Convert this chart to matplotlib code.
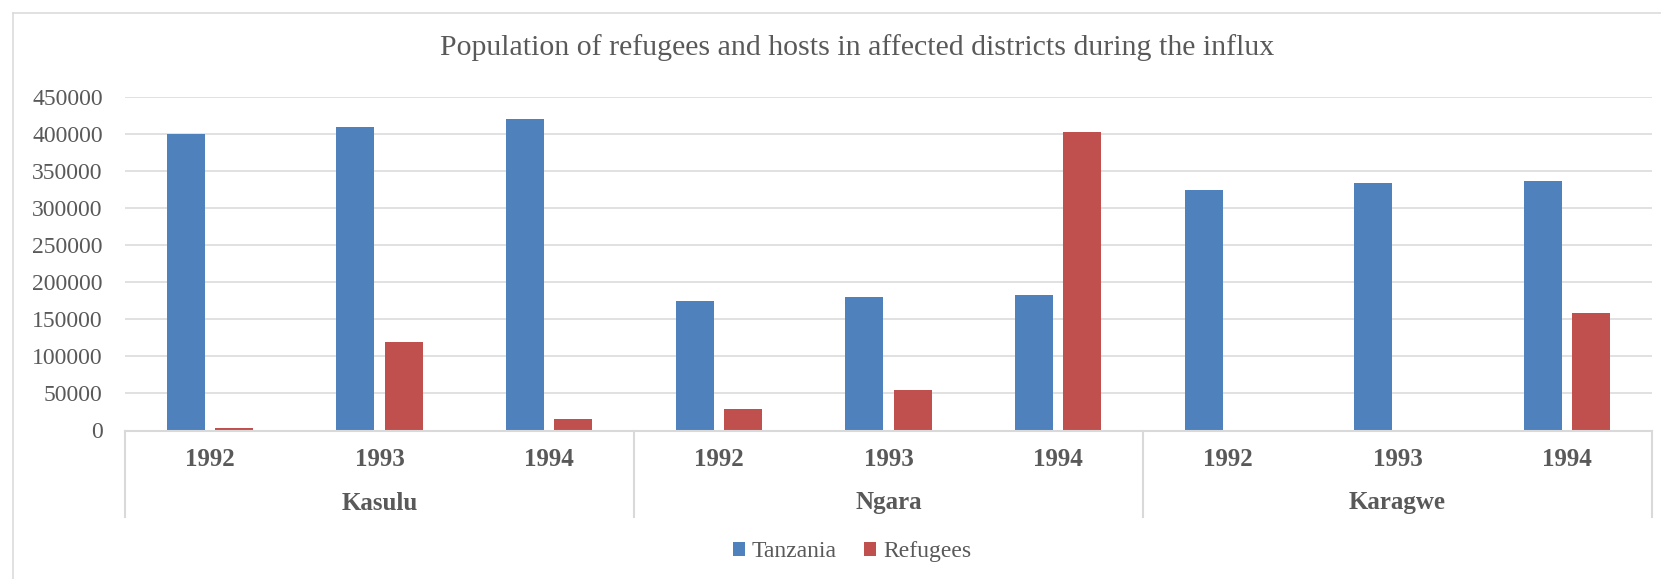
import matplotlib
matplotlib.use("Agg")
import matplotlib.pyplot as plt
from matplotlib.lines import Line2D
from matplotlib.patches import Patch
import matplotlib.transforms as mtransforms
import numpy as np

# ---- data ----
districts = ["Kasulu", "Ngara", "Karagwe"]
years = ["1992", "1993", "1994"]
tanzania = [400000, 410000, 420000, 175000, 180000, 183000, 325000, 334000, 337000]
refugees = [4000, 119000, 15000, 29000, 55000, 402500, 0, 0, 158000]
yticks = [0, 50000, 100000, 150000, 200000, 250000, 300000, 350000, 400000, 450000]
series_names = ["Tanzania", "Refugees"]

BLUE = "#4F81BD"
RED = "#C0504D"
TXT = "#595959"
GRID = "#D9D9D9"
FONT = "Liberation Serif"

W, H = 1661, 579
fig = plt.figure(figsize=(W / 100, H / 100), dpi=100)
fig.patch.set_facecolor("white")

# outer chart border (left and top visible)
fig.add_artist(Line2D([12.7 / W, 12.7 / W], [0, 1 - 12.7 / H], transform=fig.transFigure,
                      color=GRID, lw=1.1))
fig.add_artist(Line2D([12.7 / W, 1], [1 - 12.7 / H, 1 - 12.7 / H], transform=fig.transFigure,
                      color=GRID, lw=1.1))

left, right = 125 / W, 1652 / W
bottom, top = 1 - 430.5 / H, 1 - 97 / H
ax = fig.add_axes([left, bottom, right - left, top - bottom])

n = len(tanzania)
x = np.arange(n)
bw = 0.224
off = 0.143
ax.bar(x - off, tanzania, width=bw, color=BLUE, zorder=3, label=series_names[0])
ax.bar(x + off, refugees, width=bw, color=RED, zorder=3, label=series_names[1])

ax.set_xlim(-0.5, n - 0.5)
ax.set_ylim(0, 450000)
ax.set_yticks(yticks)
ax.set_yticklabels([str(v) for v in yticks], fontfamily=FONT, fontsize=17, color=TXT)
ax.tick_params(axis="y", length=0, pad=16)
ax.set_xticks([])
ax.yaxis.grid(True, color=GRID, lw=1.1, zorder=0)
ax.set_axisbelow(True)
for s in ["left", "right", "top"]:
    ax.spines[s].set_visible(False)
ax.spines["bottom"].set_color(GRID)
ax.spines["bottom"].set_linewidth(1.5)
ax.spines["bottom"].set_zorder(4)

trans = mtransforms.blended_transform_factory(ax.transData, ax.transAxes)
ax_h = 430.5 - 97
sep_bottom = -(516.7 - 430.5) / ax_h
year_y = -(460 - 430.5) / ax_h
dist_y = -(503 - 430.5) / ax_h

ng = len(districts)
ny = len(years)
for g in range(ng + 1):
    xs = g * ny - 0.5
    ax.add_line(Line2D([xs, xs], [0, sep_bottom], transform=trans, color=GRID, lw=1.5,
                       clip_on=False))
for g, d in enumerate(districts):
    for j, yr in enumerate(years):
        ax.text(g * ny + j, year_y, yr, transform=trans, ha="center", va="center",
                fontfamily=FONT, fontweight="bold", fontsize=18, color=TXT)
    ax.text(g * ny + (ny - 1) / 2, dist_y, d, transform=trans, ha="center", va="center",
            fontfamily=FONT, fontweight="bold", fontsize=18, color=TXT)

fig.text(857 / W, 1 - 48 / H,
         "Population of refugees and hosts in affected districts during the influx",
         ha="center", va="center", fontfamily=FONT, fontsize=21.5, color=TXT)

handles = [Patch(facecolor=BLUE), Patch(facecolor=RED)]
leg = fig.legend(handles, series_names, loc="center", bbox_to_anchor=(852 / W, 1 - 551.7 / H),
                 ncol=2, frameon=False, prop={"family": FONT, "size": 17},
                 handlelength=0.52, handleheight=0.52, handletextpad=0.3, columnspacing=1.15)
for t in leg.get_texts():
    t.set_color(TXT)

fig.savefig("out.png", dpi=100, facecolor="white")
